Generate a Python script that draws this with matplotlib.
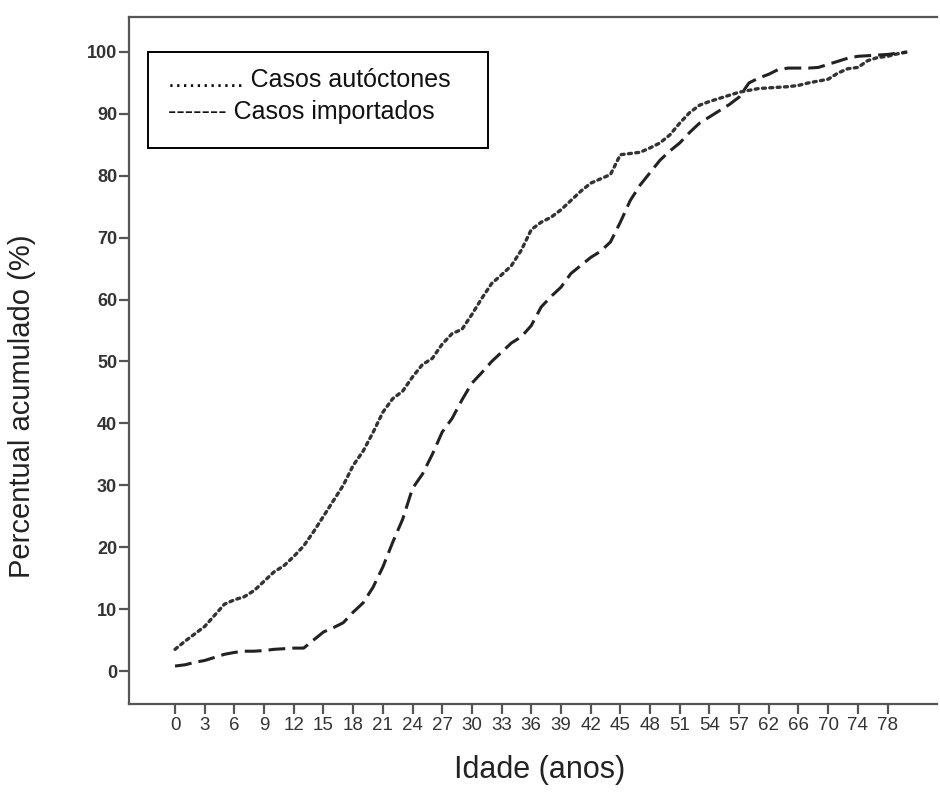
import matplotlib
matplotlib.use("Agg")
import matplotlib.pyplot as plt
from matplotlib.patches import Rectangle
import numpy as np

plt.rcParams['font.family'] = ['Liberation Sans', 'DejaVu Sans']

# tick labels (every third age category)
tick_labels = ["0", "3", "6", "9", "12", "15", "18", "21", "24", "27", "30", "33",
               "36", "39", "42", "45", "48", "51", "54", "57", "62", "66", "70", "74", "78"]

# cumulative percentages per age category (index 0..74)
autoctones = [3.5, 4.8, 6.0, 7.2, 9.0, 10.8, 11.5, 12.0, 13.0, 14.5,
              16.0, 17.0, 18.5, 20.2, 22.5, 25.0, 27.5, 30.0, 33.2, 35.5,
              38.5, 41.8, 44.0, 45.2, 47.5, 49.5, 50.5, 52.8, 54.5, 55.2,
              57.6, 60.2, 62.6, 64.0, 65.5, 68.0, 71.3, 72.5, 73.3, 74.5,
              76.0, 77.5, 78.8, 79.5, 80.2, 83.4, 83.6, 83.8, 84.5, 85.3,
              86.6, 88.5, 90.2, 91.4, 92.0, 92.5, 93.0, 93.5, 93.8, 94.1,
              94.2, 94.3, 94.4, 94.6, 95.0, 95.3, 95.6, 96.6, 97.3, 97.5,
              98.6, 99.1, 99.3, 99.7, 100.0]

importados = [0.8, 1.0, 1.4, 1.7, 2.2, 2.7, 3.0, 3.2, 3.2, 3.3,
              3.5, 3.6, 3.7, 3.7, 5.0, 6.3, 7.0, 7.8, 9.5, 11.0,
              13.5, 16.8, 20.8, 24.5, 29.5, 31.8, 35.0, 38.6, 40.8, 43.8,
              46.5, 48.2, 50.0, 51.5, 53.0, 54.0, 55.8, 58.8, 60.5, 62.0,
              64.2, 65.5, 66.8, 67.8, 69.3, 72.5, 76.0, 78.5, 80.5, 82.5,
              84.0, 85.3, 87.0, 88.5, 89.5, 90.5, 91.5, 92.7, 95.0, 95.8,
              96.4, 97.2, 97.4, 97.4, 97.4, 97.5, 98.0, 98.5, 99.0, 99.3,
              99.4, 99.5, 99.6, 99.8, 100.0]

yticks = [0, 10, 20, 30, 40, 50, 60, 70, 80, 90, 100]

W, H = 940, 796
fig = plt.figure(figsize=(W/100, H/100), dpi=100)
ax = fig.add_axes([129/W, (H-704)/H, (937-129)/W, (704-17)/H])

x = np.arange(len(autoctones))
ax.plot(x, autoctones, color='#333333', lw=2.4, linestyle=(0, (0.9, 1.3)),
        dash_capstyle='round', solid_capstyle='round')
ax.plot(x, importados, color='#222222', lw=2.2, linestyle=(0, (5.5, 2.3)))

ax.set_xlim(-4.65, 77.0)
ax.set_ylim(-5.33, 105.65)
ax.set_xticks(np.arange(0, 3*len(tick_labels), 3))
ax.set_xticklabels(tick_labels, fontsize=13.5, color='#333333')
ax.set_yticks(yticks)
ax.set_yticklabels([str(v) for v in yticks], fontsize=13, fontweight='bold', color='#333333')

for s in ['left', 'bottom', 'top']:
    ax.spines[s].set_color('#555555')
    ax.spines[s].set_linewidth(1.6)
ax.spines['right'].set_visible(False)
ax.tick_params(axis='x', length=7.5, width=1.6, color='#555555', pad=2)
ax.tick_params(axis='y', length=7, width=1.6, color='#555555', pad=1.5)

# axis titles
fig.text(22/W, 1 - 406/H, 'Percentual acumulado (%)', rotation=90, fontsize=21,
         ha='center', va='center', color='#222222')
fig.text(540/W, 1 - 770/H, 'Idade (anos)', fontsize=22,
         ha='center', va='center', color='#222222')

# legend drawn as text box
x0, y0, x1, y1 = 148, 52, 488, 148
fig.patches.append(Rectangle((x0/W, 1 - y1/H), (x1-x0)/W, (y1-y0)/H,
                             transform=fig.transFigure, facecolor='white',
                             edgecolor='black', linewidth=1.4, zorder=5))
fig.text(168/W, 1 - 80/H, "........... Casos autóctones", fontsize=18,
         ha='left', va='center', color='#111111', zorder=6)
fig.text(168/W, 1 - 112/H, "------- Casos importados", fontsize=18,
         ha='left', va='center', color='#111111', zorder=6)

fig.savefig('out.png', dpi=100)
